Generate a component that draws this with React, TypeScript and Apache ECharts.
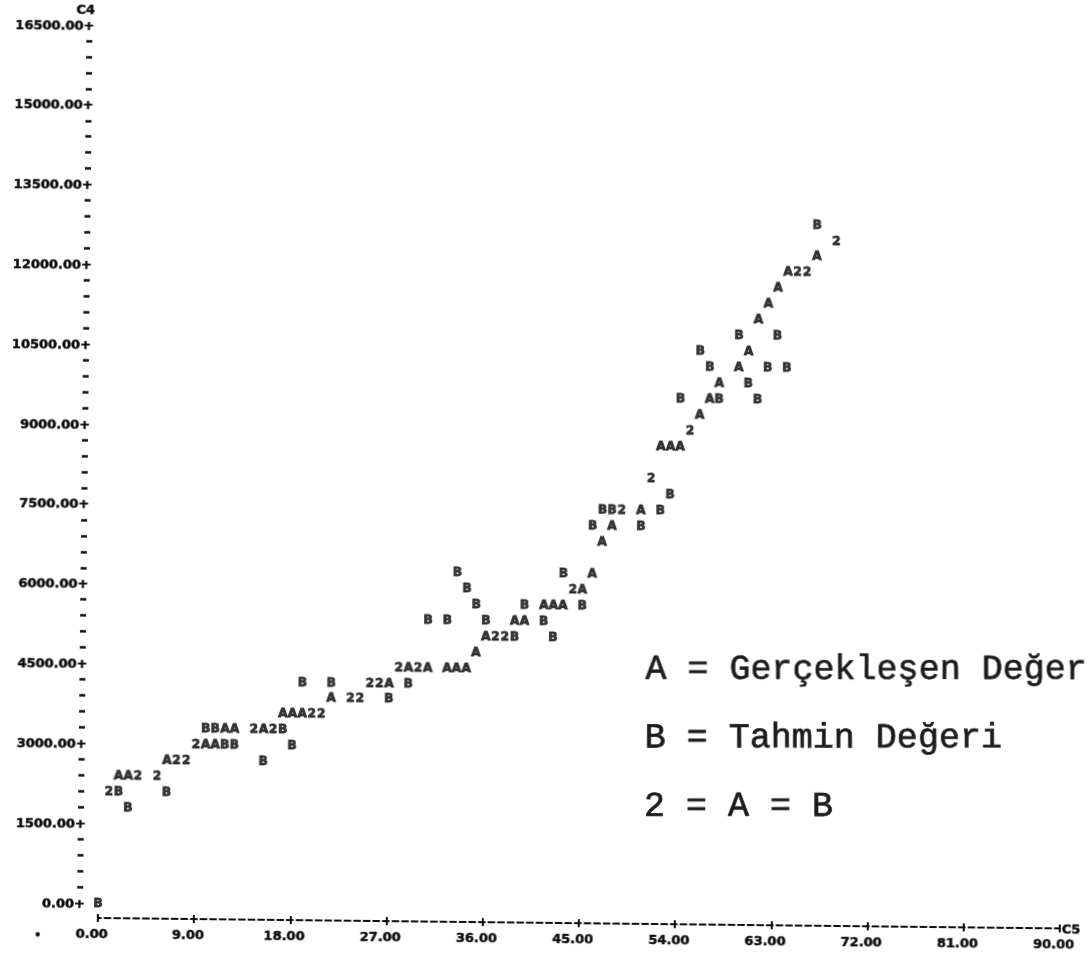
import React, { useEffect, useRef } from "react";
import * as echarts from "echarts";

// Tick values
const xTicks: number[] = [0, 9, 18, 27, 36, 45, 54, 63, 72, 81, 90];
const yMax = 16500;
const yStep = 1500;

// A = Gerçekleşen Değer (actual)
const seriesA: [number, number][] = [
  [1.8, 2400], [2.7, 2400], [6.3, 2700], [9.9, 3000], [10.8, 3000], [11.7, 3300], [12.6, 3300],
  [15.3, 3300], [17.1, 3600], [18, 3600], [18.9, 3600], [21.6, 3900], [27, 4200], [28.8, 4500],
  [30.6, 4500], [32.4, 4500], [33.3, 4500], [34.2, 4500], [35.1, 4800], [36, 5100], [38.7, 5400],
  [39.6, 5400], [41.4, 5700], [42.3, 5700], [43.2, 5700], [45, 6000], [45.9, 6300], [46.8, 6900],
  [47.7, 7200], [50.4, 7500], [52.2, 8700], [53.1, 8700], [54, 8700], [55.8, 9300], [56.7, 9600],
  [57.6, 9900], [59.4, 10200], [60.3, 10500], [61.2, 11100], [62.1, 11400], [63, 11700],
  [63.9, 12000], [66.6, 12300],
];

// B = Tahmin Değeri (forecast)
const seriesB: [number, number][] = [
  [0, 0], [1.8, 2100], [2.7, 1800], [6.3, 2100], [9.9, 3300], [10.8, 3300], [11.7, 3000],
  [12.6, 3000], [15.3, 2700], [17.1, 3300], [18, 3000], [18.9, 4200], [21.6, 4200], [27, 3900],
  [28.8, 4200], [30.6, 5400], [32.4, 5400], [33.3, 6300], [34.2, 6000], [35.1, 5700], [36, 5400],
  [38.7, 5100], [39.6, 5700], [41.4, 5400], [42.3, 5100], [43.2, 6300], [45, 5700], [45.9, 7200],
  [46.8, 7500], [47.7, 7500], [50.4, 7200], [52.2, 7500], [53.1, 7800], [54, 9600], [55.8, 10500],
  [56.7, 10200], [57.6, 9600], [59.4, 10800], [60.3, 9900], [61.2, 9600], [62.1, 10200],
  [63, 10800], [63.9, 10200], [66.6, 12900],
];

// 2 = A = B (coinciding)
const series2: [number, number][] = [
  [0.9, 2100], [3.6, 2400], [5.4, 2400], [7.2, 2700], [8.1, 2700], [9, 3000], [14.4, 3300],
  [16.2, 3300], [19.8, 3600], [20.7, 3600], [23.4, 3900], [24.3, 3900], [25.2, 4200], [26.1, 4200],
  [27.9, 4500], [29.7, 4500], [36.9, 5100], [37.8, 5100], [44.1, 6000], [48.6, 7500], [51.3, 8100],
  [54.9, 9000], [64.8, 12000], [65.7, 12000], [68.4, 12600],
];

const legendLines: string[] = ["A = Gerçekleşen Değer", "B = Tahmin Değeri", "2 = A = B"];

const INK = "#0d0d0d";
const PFONT = "'DejaVu Sans', 'Noto Sans', sans-serif";
const TFONT = "'Liberation Mono', 'DejaVu Sans Mono', monospace";
const TILT = 0.62; // degrees, scan tilt

export default function App() {
  const ref = useRef<HTMLDivElement>(null);

  useEffect(() => {
    if (!ref.current) return;
    const chart = echarts.init(ref.current, null, { renderer: "svg" });

    const mk = (name: string, data: [number, number][], ch: string) => ({
      type: "scatter",
      name,
      data,
      symbol: "circle",
      symbolSize: 1,
      itemStyle: { color: "rgba(0,0,0,0)" },
      label: {
        show: true,
        position: "inside",
        formatter: ch,
        color: INK,
        fontFamily: PFONT,
        fontWeight: "bold",
        fontSize: 12,
        textBorderColor: INK,
        textBorderWidth: 0.9,
      },
      emphasis: { disabled: true },
      silent: true,
    });

    const tickLabel = {
      color: INK,
      fontFamily: PFONT,
      fontWeight: "bold",
      fontSize: 13,
      textBorderColor: INK,
      textBorderWidth: 0.5,
    };

    const rad = (TILT * Math.PI) / 180;

    chart.setOption({
      animation: false,
      backgroundColor: "#ffffff",
      grid: { left: 98, right: 31, top: 25, bottom: 56, containLabel: false, outerBoundsMode: "none" },
      xAxis: [
        {
          type: "value",
          min: 0,
          max: 90,
          interval: 9,
          position: "bottom",
          offset: 15,
          axisLine: {
            show: true,
            onZero: false,
            lineStyle: { color: INK, width: 2, type: [6, 3.6], dashOffset: 3 },
          },
          axisTick: { show: true, length: 4, lineStyle: { color: INK, width: 2 } },
          axisLabel: {
            ...tickLabel,
            margin: 9,
            padding: [0, 12, 0, 0],
            formatter: (v: number) => (xTicks.includes(v) ? v.toFixed(2) : ""),
          },
          splitLine: { show: false },
          name: "C5",
          nameLocation: "end",
          nameGap: 2,
          nameTextStyle: { ...tickLabel },
        },
        {
          type: "value",
          min: 0,
          max: 90,
          interval: 9,
          position: "bottom",
          offset: 15,
          axisLine: { show: false, onZero: false },
          axisTick: { show: true, inside: true, length: 4, lineStyle: { color: INK, width: 2 } },
          axisLabel: { show: false },
          splitLine: { show: false },
        },
      ],
      yAxis: {
        type: "value",
        min: 0,
        max: yMax,
        interval: yStep,
        offset: 15,
        axisLine: { show: false, onZero: false },
        axisTick: { show: false },
        minorTick: { show: true, splitNumber: 5, length: 6, lineStyle: { color: INK, width: 2.5 } },
        minorSplitLine: { show: false },
        splitLine: { show: false },
        axisLabel: {
          ...tickLabel,
          margin: -2,
          formatter: (v: number) => v.toFixed(2) + "+",
        },
        name: "C4",
        nameLocation: "end",
        nameGap: 9,
        nameTextStyle: { ...tickLabel, padding: [0, 14, 0, 0] },
      },
      series: [mk("A", seriesA, "A"), mk("B", seriesB, "B"), mk("2", series2, "2")],
      graphic: [
        ...legendLines.map((t, i) => ({
          type: "text",
          x: 643,
          y: 664 + i * 68.5,
          rotation: rad,
          silent: true,
          style: {
            text: t,
            fontFamily: TFONT,
            fontSize: 35,
            fill: "#1c1c1c",
            stroke: "#1c1c1c",
            lineWidth: 0.7,
            align: "left",
            verticalAlign: "middle",
          },
        })),
        {
          type: "circle",
          silent: true,
          shape: { cx: 38, cy: 935, r: 2.2 },
          style: { fill: INK },
        },
      ],
    });

    return () => chart.dispose();
  }, []);

  return (
    <div
      ref={ref}
      style={{
        position: "fixed",
        left: 0,
        top: 0,
        width: 1091,
        height: 959,
        background: "#ffffff",
        transform: `rotate(${TILT}deg)`,
        transformOrigin: "98px 903px",
      }}
    />
  );
}
